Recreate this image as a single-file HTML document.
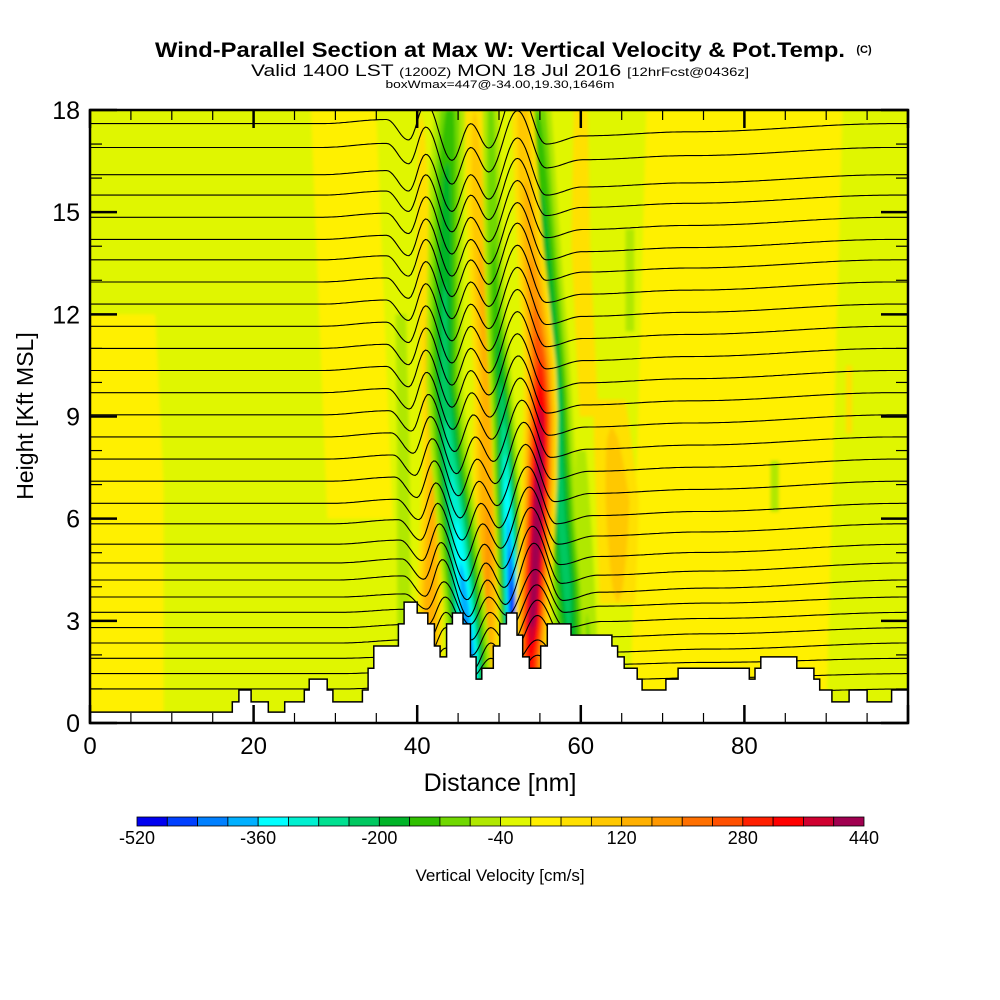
<!DOCTYPE html>
<html><head><meta charset="utf-8"><style>
html,body{margin:0;padding:0;background:#fff;}
svg{display:block;font-family:"Liberation Sans",sans-serif;}
</style></head><body>
<svg id="chart" width="1000" height="1000" viewBox="0 0 1000 1000" xmlns="http://www.w3.org/2000/svg">
<defs>
<clipPath id="plotClip"><rect x="90" y="110" width="818" height="613"/></clipPath>
<filter id="soft" x="-5%" y="-5%" width="110%" height="110%"><feGaussianBlur stdDeviation="1.6"/></filter>
</defs>
<text x="500" y="57" text-anchor="middle" font-size="21" font-weight="bold" textLength="690" lengthAdjust="spacingAndGlyphs">Wind-Parallel Section at Max W: Vertical Velocity &amp; Pot.Temp.</text>
<text x="864" y="53" text-anchor="middle" font-size="11" font-weight="bold">(C)</text>
<text x="500" y="76" text-anchor="middle" font-size="17" textLength="498" lengthAdjust="spacingAndGlyphs">Valid 1400 LST <tspan font-size="12">(1200Z)</tspan> MON 18 Jul 2016 <tspan font-size="12">[12hrFcst@0436z]</tspan></text>
<text x="500" y="88" text-anchor="middle" font-size="11" textLength="229" lengthAdjust="spacingAndGlyphs">boxWmax=447@-34.00,19.30,1646m</text>
<g id="plot" clip-path="url(#plotClip)">
<rect x="90" y="110" width="818" height="613" fill="#e0f600"/>
<g id="fills" filter="url(#soft)"></g>
<g id="isolines"></g>
<g id="terrain"></g>
</g>
<g id="axes"></g>
<g id="colorbar"></g>
<text x="500" y="791" text-anchor="middle" font-size="25">Distance [nm]</text>
<text transform="translate(33,416) rotate(-90)" text-anchor="middle" font-size="23">Height [Kft MSL]</text>
<text x="500" y="881" text-anchor="middle" font-size="17">Vertical Velocity [cm/s]</text>
</svg>
<script>
// ---- data ----
const xTicks=[0,20,40,60,80];
const yTicks=[0,3,6,9,12,15,18];
const cbLevels=[-520,-480,-440,-400,-360,-320,-280,-240,-200,-160,-120,-80,-40,0,40,80,120,160,200,240,280,320,360,400,440];
const cbLabels=[-520,-360,-200,-40,120,280,440];
const cbColors=["#0000f0","#0040ff","#0080ff","#00b0ff","#00ffff","#00f0d0","#00e090","#00c860","#00b428","#30c000","#70d800","#b0e800","#e0f800","#fff000","#ffe000","#ffc800","#ffb000","#ff9800","#ff7000","#ff5000","#ff2000","#ff0000","#d00030","#a00050"];
// bands: [heightKft, distanceNm, wValue]
const yellowLeft=[[0,4,20],[7,4,20],[12,3,20]];
const yellowRight=[[0,78,20],[9,79,20],[18,80,20]];
const yellowMid=[[6,33,20],[12,32,20],[18,31,20]];
const orangeRightTop=[[9,61,60],[14,60,60],[18,60,50]];
const orangeRightMid=[[3.5,64.5,80],[6.5,64.5,110],[9.5,63.5,70]];
const orangeFarRight=[[8.5,92.8,60],[10.5,92.8,60]];
const greenRightSmall1=[[11.5,66,-70],[14.5,66,-70]];
const greenRightSmall2=[[6.2,83.7,-70],[7.7,83.7,-70]];
const greenLowRight=[[1.5,61,-90],[5,60.5,-70],[8,60,-50]];
const greenLeft=[[2,38.4,-80],[8,38.3,-70],[12,38,-60]];
const orangeLeftOfA=[[1,41.5,150],[4,41.6,160],[6,41.8,130],[8,42,120],[10,41.7,110],[12,41.2,80],[14,40.8,60],[18,40.5,40]];
const orangeBetween=[[1,48.3,150],[5,48.7,170],[8,48.4,150],[10,48.5,140],[13,47.9,130],[16,47.3,100],[18,47,80]];
const downdraftA=[[0.5,46.4,-420],[2,46.3,-430],[4,45.6,-380],[6,44.8,-320],[8,43.9,-260],[10,43.3,-220],[13,43.4,-200],[16,43.6,-170],[18,44,-130]];
const downdraftC=[[0.5,51.9,-480],[2.3,51.8,-500],[4,51.5,-450],[5.5,51.2,-380],[7,50.9,-330],[8.5,50.6,-250],[10,50.2,-200],[12,49.6,-140],[15,49.2,-110],[18,49,-90]];
const downdraftE=[[1,58.8,-200],[2.6,58.6,-200],[4,58.3,-220],[6,57.6,-220],[8,57.1,-230],[9.6,56.7,-260],[11,56.4,-220],[13,55.8,-200],[15,55.3,-170],[18,54.7,-120]];
const updraftD=[[0.5,53.8,300],[2,53.9,330],[3,54.1,420],[5,54.5,450],[7,54.9,440],[9,55.1,380],[10.5,55.0,290],[12,54.5,210],[14,53.8,150],[16,53.3,120],[18,52.9,100]];
const bandList=[yellowLeft,yellowRight,yellowMid,orangeRightTop,orangeRightMid,orangeFarRight,greenRightSmall1,greenRightSmall2,greenLowRight,greenLeft,orangeLeftOfA,orangeBetween,downdraftA,downdraftC,downdraftE,updraftD];
const bandNames=["yellow-left","yellow-right","yellow-mid","orange-right-top","orange-right-mid","orange-far-right","green-right-small-1","green-right-small-2","green-low-right","green-left","orange-left-of-a","orange-between","downdraft-a","downdraft-c","downdraft-e","updraft-d"];
const bandWidths=[5,12,4,1.8,2.6,0.6,0.7,0.7,1.3,1.0,1.3,1.4,1.7,1.1,1.6,1.4];
// potential temperature isolines: base heights at left edge (kft)
const isoBase=[17.6,16.9,16.1,15.5,14.85,14.2,13.6,12.95,12.3,11.65,11.0,10.35,9.7,9.05,8.4,7.75,7.1,6.45,5.85,5.25,4.7,4.2,3.7,3.25,2.8,2.35,1.9,1.45,1.0];
const dispX=[0,30,38,40.7,42.8,46,48.3,50.5,54,57.5,62,75,100];
const dispK=[0,0,0.1,-0.4,0.5,-0.9,0,-0.6,0.9,-0.5,-0.3,-0.2,0];
// terrain steps: start distance (nm) and height (kft)
const terrainX=[0,17.4,18.2,19.7,21.8,23.8,26.2,26.8,29.0,29.7,33.3,34.0,34.7,37.7,38.4,40.0,41.3,42.1,42.8,43.6,44.3,45.6,46.5,47.2,47.9,49.3,50.1,50.9,52.2,52.9,53.7,55.1,55.9,58.8,63.8,64.5,65.3,66.9,67.5,70.4,71.9,80.6,81.3,82.0,86.4,88.5,89.2,90.7,92.8,95.0,98.0];
const terrainH=[0.32,0.62,0.97,0.62,0.32,0.62,0.97,1.29,0.97,0.62,0.97,1.61,2.26,2.91,3.55,3.23,2.91,2.26,1.94,2.91,3.23,2.91,1.94,1.29,1.61,2.26,2.91,3.23,2.58,1.94,1.61,2.26,2.91,2.58,2.26,1.94,1.61,1.29,0.97,1.29,1.61,1.29,1.61,1.94,1.61,1.29,0.97,0.62,0.97,0.62,0.97];

// ---- scales ----
const X0=90,X1=908,Y0=723,Y1=110,XMAX=100,YMAX=18;
const sx=v=>X0+v*(X1-X0)/XMAX;
const sy=v=>Y0-v*(Y0-Y1)/YMAX;
const NS="http://www.w3.org/2000/svg";
function mk(tag,attrs,parent){const e=document.createElementNS(NS,tag);for(const k in attrs)e.setAttribute(k,attrs[k]);parent.appendChild(e);return e;}
function colorFor(t,neg){let idx;if(neg){idx=cbLevels.indexOf(t)-1;}else{idx=cbLevels.indexOf(t);}return cbColors[Math.max(0,Math.min(cbColors.length-1,idx))];}

// ---- filled bands ----
const fills=document.getElementById('fills');
bandList.forEach((pts,bi)=>{
  const w=bandWidths[bi];
  const g=mk('g',{},fills);
  
  
  const dense=[];
  for(let i=0;i<pts.length-1;i++){for(let s=0;s<8;s++){const f=s/8;dense.push([pts[i][0]+(pts[i+1][0]-pts[i][0])*f,pts[i][1]+(pts[i+1][1]-pts[i][1])*f,pts[i][2]+(pts[i+1][2]-pts[i][2])*f]);}}
  dense.push(pts[pts.length-1]);
  const neg=pts[0][2]<0;
  const vmax=Math.max(...pts.map(p=>Math.abs(p[2])));
  let thr=[];
  if(pts.every(p=>p[2]===20)){thr=[0];}
  else if(neg){for(let t=-40;t>-vmax;t-=40)thr.push(t);}
  else{for(let t=40;t<vmax;t+=40)thr.push(t);}
  thr.forEach(t=>{
    const left=[],right=[];
    dense.forEach(p=>{
      let hw;
      if(t===0){hw=w;}else{const r=p[2]/t;hw=r>1?w*Math.sqrt(Math.log(r)):0;}
      left.push([sx(p[1]-hw),sy(p[0])]);right.push([sx(p[1]+hw),sy(p[0])]);
    });
    const poly=left.concat(right.reverse()).map(q=>q[0].toFixed(1)+','+q[1].toFixed(1)).join(' ');
    const pg=mk('polygon',{points:poly,fill:colorFor(t,neg)},g);
    
    
  });
});

// ---- isolines ----
function disp(x){for(let i=0;i<dispX.length-1;i++){if(x>=dispX[i]&&x<=dispX[i+1]){const f=(x-dispX[i])/(dispX[i+1]-dispX[i]);const c=(1-Math.cos(Math.PI*f))/2;return dispK[i]+(dispK[i+1]-dispK[i])*c;}}return 0;}
const iso=document.getElementById('isolines');
isoBase.forEach((b,i)=>{
  const amp=b>4?1.2:(b>2?0.9:0.6);
  const tilt=(Math.min(Math.max(b,3),10)-5)*0.35;
  let d='';
  for(let x=0;x<=100;x+=0.25){const k=b+amp*disp(Math.min(100,Math.max(0,x+tilt)));d+=(x===0?'M':'L')+sx(x).toFixed(1)+','+sy(k).toFixed(1);}
  const p=mk('path',{d:d,fill:'none',stroke:'#000','stroke-width':1.1},iso);
  
  
});

// ---- terrain ----
const ter=document.getElementById('terrain');
let td='M'+sx(0)+','+Y0;
terrainX.forEach((x,i)=>{const xe=i<terrainX.length-1?terrainX[i+1]:XMAX;td+=' L'+sx(x).toFixed(1)+','+sy(terrainH[i]).toFixed(1)+' L'+sx(xe).toFixed(1)+','+sy(terrainH[i]).toFixed(1);});
td+=' L'+sx(XMAX)+','+Y0+' Z';
const tp=mk('path',{d:td,fill:'#fff',stroke:'#000','stroke-width':1.5},ter);



// ---- axes ----
const ax=document.getElementById('axes');
const fr=mk('rect',{x:X0,y:Y1,width:X1-X0,height:Y0-Y1,fill:'none',stroke:'#000','stroke-width':2.5},ax);


for(let v=0;v<=XMAX;v+=5){
  const major=v%20===0;const L=major?18:10;
  const t1=mk('line',{x1:sx(v),x2:sx(v),y1:Y0,y2:Y0-L,stroke:'#000','stroke-width':major?2.5:1.2},ax);
  
  
  const t2=mk('line',{x1:sx(v),x2:sx(v),y1:Y1,y2:Y1+L,stroke:'#000','stroke-width':major?2.5:1.2},ax);
  
  
}
xTicks.forEach(v=>{const t=mk('text',{x:sx(v),y:754,'text-anchor':'middle','font-size':24},ax);t.textContent=v;
  
  });
for(let v=0;v<=YMAX;v+=1){
  const major=v%3===0;const L=major?27:12;
  const t1=mk('line',{x1:X0,x2:X0+L,y1:sy(v),y2:sy(v),stroke:'#000','stroke-width':major?2.5:1.2},ax);
  
  
  const t2=mk('line',{x1:X1,x2:X1-L,y1:sy(v),y2:sy(v),stroke:'#000','stroke-width':major?2.5:1.2},ax);
  
  
}
yTicks.forEach(v=>{const t=mk('text',{x:80,y:sy(v)+9,'text-anchor':'end','font-size':25},ax);t.textContent=v;
  
  });

// ---- colorbar ----
const cb=document.getElementById('colorbar');
const CB0=137,CB1=864,CBY=817,CBH=9;
const cw=(CB1-CB0)/cbColors.length;
cbColors.forEach((c,i)=>{const r=mk('rect',{x:CB0+i*cw,y:CBY,width:cw,height:CBH,fill:c,stroke:'#000','stroke-width':0.8},cb);
  
  });
cbLabels.forEach(v=>{const i=cbLevels.indexOf(v);const t=mk('text',{x:CB0+i*cw,y:844,'text-anchor':'middle','font-size':18},cb);t.textContent=v;
  
  });
</script>
</body></html>
